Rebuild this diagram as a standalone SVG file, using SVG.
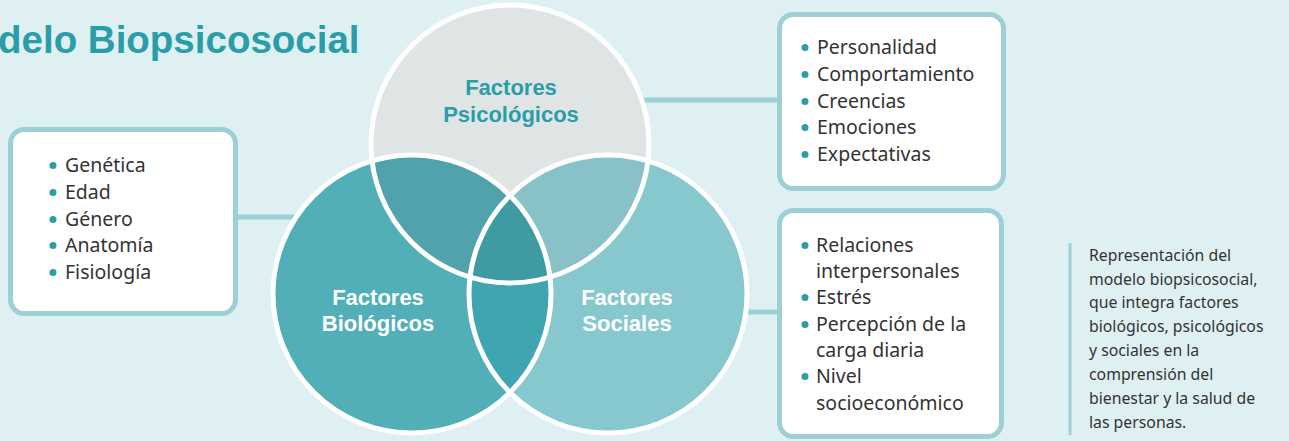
<svg xmlns="http://www.w3.org/2000/svg" width="1289" height="441" viewBox="0 0 1289 441">
<style>
.title{font-family:"Liberation Sans",Arial,sans-serif;font-weight:bold;font-size:38.5px;fill:#2a9da8}
.clab{font-family:"Liberation Sans",Arial,sans-serif;font-weight:bold;font-size:22px;text-anchor:middle}
.item{font-family:"Noto Sans",sans-serif;font-size:19.5px;fill:#333333}
.cap{font-family:"Noto Sans",sans-serif;font-size:15.8px;fill:#333333}
.box{fill:#ffffff;stroke:#9cd0d5;stroke-width:5}
.dot{fill:#2a9da8}
.ring{fill:none;stroke:#ffffff;stroke-width:5}
.conn{stroke:#9cd0d5;stroke-width:5;fill:none}
</style>
<defs>
<clipPath id="cT"><circle cx="510" cy="144" r="139"/></clipPath>
<clipPath id="cL"><circle cx="412" cy="294" r="139"/></clipPath>
</defs>
<rect x="0" y="0" width="1289" height="441" fill="#dff0f2"/>
<text class="title" x="-2" y="53">delo Biopsicosocial</text>
<g id="connectors">
<line class="conn" x1="235" y1="217" x2="305" y2="217"/>
<line class="conn" x1="640" y1="100" x2="782" y2="100"/>
<line class="conn" x1="735" y1="312" x2="782" y2="312"/>
</g>
<g id="venn">
<circle cx="510" cy="144" r="139" fill="#dfe5e5"/>
<circle cx="412" cy="294" r="139" fill="#52afb8"/>
<circle cx="608" cy="294" r="139" fill="#87c8cf"/>
<g clip-path="url(#cT)">
<circle cx="412" cy="294" r="139" fill="#50a2ac"/>
<circle cx="608" cy="294" r="139" fill="#88c1c8"/>
</g>
<g clip-path="url(#cL)">
<circle cx="608" cy="294" r="139" fill="#3fa6b1"/>
<g clip-path="url(#cT)"><circle cx="608" cy="294" r="139" fill="#3f9aa4"/></g>
</g>
<circle class="ring" cx="510" cy="144" r="139"/>
<circle class="ring" cx="412" cy="294" r="139"/>
<circle class="ring" cx="608" cy="294" r="139"/>
</g>
<g id="psicologicos">
<text class="clab" fill="#2a9da8" x="511" y="95">Factores</text>
<text class="clab" fill="#2a9da8" x="511" y="122">Psicológicos</text>
</g>
<g id="biologicos">
<text class="clab" fill="#ffffff" x="378" y="305">Factores</text>
<text class="clab" fill="#ffffff" x="378" y="331">Biológicos</text>
</g>
<g id="sociales">
<text class="clab" fill="#ffffff" x="627" y="305">Factores</text>
<text class="clab" fill="#ffffff" x="627" y="331">Sociales</text>
</g>
<g id="box-biologicos">
<rect class="box" x="10.5" y="129.5" width="225" height="184" rx="14"/>
<circle class="dot" cx="53" cy="165.5" r="3.5"/><text class="item" x="65" y="172">Genética</text>
<circle class="dot" cx="53" cy="192.5" r="3.5"/><text class="item" x="65" y="199">Edad</text>
<circle class="dot" cx="53" cy="219.5" r="3.5"/><text class="item" x="65" y="226">Género</text>
<circle class="dot" cx="53" cy="245.5" r="3.5"/><text class="item" x="65" y="252">Anatomía</text>
<circle class="dot" cx="53" cy="272.5" r="3.5"/><text class="item" x="65" y="279">Fisiología</text>
</g>
<g id="box-psicologicos">
<rect class="box" x="779.5" y="14.5" width="224" height="174" rx="14"/>
<circle class="dot" cx="805" cy="47.5" r="3.5"/><text class="item" x="817" y="54">Personalidad</text>
<circle class="dot" cx="805" cy="74.5" r="3.5"/><text class="item" x="817" y="81">Comportamiento</text>
<circle class="dot" cx="805" cy="101.5" r="3.5"/><text class="item" x="817" y="108">Creencias</text>
<circle class="dot" cx="805" cy="127.5" r="3.5"/><text class="item" x="817" y="134">Emociones</text>
<circle class="dot" cx="805" cy="154.5" r="3.5"/><text class="item" x="817" y="161">Expectativas</text>
</g>
<g id="box-sociales">
<rect class="box" x="779.5" y="210.5" width="222" height="226" rx="14"/>
<circle class="dot" cx="805" cy="245.5" r="3.5"/><text class="item" x="816" y="252">Relaciones</text>
<text class="item" x="816" y="278">interpersonales</text>
<circle class="dot" cx="805" cy="297.5" r="3.5"/><text class="item" x="816" y="304">Estrés</text>
<circle class="dot" cx="805" cy="324.5" r="3.5"/><text class="item" x="816" y="331">Percepción de la</text>
<text class="item" x="816" y="357">carga diaria</text>
<circle class="dot" cx="805" cy="376.5" r="3.5"/><text class="item" x="816" y="383">Nivel</text>
<text class="item" x="816" y="410">socioeconómico</text>
</g>
<g id="caption">
<rect x="1068.5" y="243" width="3" height="192" fill="#9cd0d5"/>
<text class="cap" x="1089" y="261">Representación del</text>
<text class="cap" x="1089" y="285">modelo biopsicosocial,</text>
<text class="cap" x="1089" y="308">que integra factores</text>
<text class="cap" x="1089" y="332">biológicos, psicológicos</text>
<text class="cap" x="1089" y="356">y sociales en la</text>
<text class="cap" x="1089" y="380">comprensión del</text>
<text class="cap" x="1089" y="404">bienestar y la salud de</text>
<text class="cap" x="1089" y="428">las personas.</text>
</g>
</svg>
